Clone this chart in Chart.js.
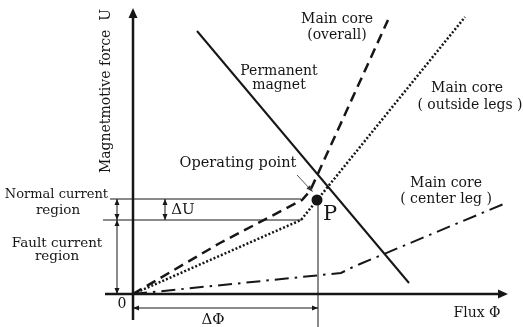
<!DOCTYPE html>
<html>
<head>
<meta charset="utf-8">
<script src="https://cdn.jsdelivr.net/npm/chart.js@4.4.1/dist/chart.umd.min.js"></script>
<style>
html,body{margin:0;padding:0;background:#fff}
#wrap{width:523px;height:327px}
</style>
</head>
<body>
<div id="wrap"><canvas id="chart" width="523" height="327"></canvas></div>
<script>
// flux (x) against magnetomotive force (y), arbitrary units
const magnetFlux = [64, 276]
const magnetMmf = [263, 11]
const overallFlux = [0, 87, 169, 177, 255]
const overallMmf = [0, 51, 94, 103, 274]
const outsideFlux = [0, 168, 332]
const outsideMmf = [0, 74, 277]
const centerFlux = [0, 208, 218, 227, 373]
const centerMmf = [0, 21, 26, 30, 91]
const operatingFlux = 184
const operatingMmf = 94
const kneeMmf = 74

const FONT = '"DejaVu Serif", "Liberation Serif", serif'
const INK = '#161616'

function pts(xs, ys) {
	return xs.map(function (v, i) { return {x: v, y: ys[i]} })
}

function head(ctx, x, y, ang, len, half) {
	ctx.save()
	ctx.translate(x, y)
	ctx.rotate(ang)
	ctx.beginPath()
	ctx.moveTo(0, 0)
	ctx.lineTo(-len, -half)
	ctx.lineTo(-len, half)
	ctx.closePath()
	ctx.fill()
	ctx.restore()
}

function seg(ctx, x1, y1, x2, y2, w) {
	ctx.lineWidth = w
	ctx.beginPath()
	ctx.moveTo(x1, y1)
	ctx.lineTo(x2, y2)
	ctx.stroke()
}

// double headed dimension arrow
function dim(ctx, x1, y1, x2, y2) {
	seg(ctx, x1, y1, x2, y2, 1)
	const a = Math.atan2(y2 - y1, x2 - x1)
	head(ctx, x2, y2, a, 6, 2.5)
	head(ctx, x1, y1, a + Math.PI, 6, 2.5)
}

function text(ctx, s, x, y, size, align) {
	ctx.font = size + 'px ' + FONT
	ctx.textAlign = align || 'center'
	ctx.textBaseline = 'middle'
	ctx.fillText(s, x, y)
}

const overlay = {
	id: 'overlay',
	beforeDraw(chart) {
		const ctx = chart.ctx
		ctx.save()
		ctx.fillStyle = '#fff'
		ctx.fillRect(0, 0, chart.width, chart.height)
		ctx.restore()
	},
	afterDatasetsDraw(chart) {
		const ctx = chart.ctx
		const x = chart.scales.x, y = chart.scales.y
		const x0 = x.getPixelForValue(0), y0 = y.getPixelForValue(0)
		const px = x.getPixelForValue(operatingFlux), py = y.getPixelForValue(operatingMmf)
		const ky = y.getPixelForValue(kneeMmf)
		ctx.save()
		ctx.strokeStyle = INK
		ctx.fillStyle = INK
		ctx.lineCap = 'butt'

		// axes
		seg(ctx, x0, 320, x0, chart.chartArea.top + 6, 2.5)
		head(ctx, x0, chart.chartArea.top, -Math.PI / 2, 10, 4.5)
		seg(ctx, 105, y0, x.right - 6, y0, 2.5)
		head(ctx, x.right, y0, 0, 10, 4.5)

		// operating point levels
		seg(ctx, 110, py - 1, px - 16, py - 1, 1)
		seg(ctx, 103, ky, px - 15, ky, 1)
		seg(ctx, px + 1, py, px + 1, 327, 1)
		dim(ctx, 117, py - 1, 117, ky)
		dim(ctx, 117, ky, 117, y0)
		dim(ctx, 165, py - 1, 165, ky)
		dim(ctx, x0, 308, px + 1, 308)

		// pointer to the operating point
		ctx.strokeStyle = '#555'
		ctx.fillStyle = '#333'
		seg(ctx, 297, 175, 311, 190, 1)
		head(ctx, 313, 192, Math.atan2(17, 16), 7, 2.5)
		ctx.strokeStyle = INK
		ctx.fillStyle = INK

		// labels
		text(ctx, 'Main core', 337, 19, 14)
		text(ctx, '(overall)', 337, 35, 14)
		text(ctx, 'Permanent', 279, 71, 14)
		text(ctx, 'magnet', 279, 85, 14)
		text(ctx, 'Main core', 467, 88, 14)
		text(ctx, '( outside legs )', 470, 105, 14)
		text(ctx, 'Main core', 446, 183, 14)
		text(ctx, '( center leg )', 446, 199, 14)
		text(ctx, 'Operating point', 238, 163, 14.5)
		text(ctx, 'Normal current', 108, 195, 13, 'right')
		text(ctx, 'region', 58, 210, 13.5)
		text(ctx, 'Fault current', 57, 243, 13.5)
		text(ctx, 'region', 57, 256, 13.5)
		text(ctx, 'ΔU', 183, 210, 15)
		text(ctx, '0', 122, 304, 14)
		text(ctx, 'ΔΦ', 213, 320, 15)
		text(ctx, 'Flux Φ', 477, 313, 14)
		text(ctx, 'P', 330, 215, 21)

		ctx.translate(106, 91)
		ctx.rotate(-Math.PI / 2)
		text(ctx, 'Magnetmotive force  U', 0, 0, 14)
		ctx.restore()
	}
}

const line = {showLine: true, fill: false, pointRadius: 0, tension: 0, borderColor: INK, borderCapStyle: 'butt'}

new Chart(document.getElementById('chart'), {
	type: 'scatter',
	data: {
		datasets: [
			Object.assign({}, line, {label: 'Permanent magnet', data: pts(magnetFlux, magnetMmf), borderWidth: 2}),
			Object.assign({}, line, {label: 'Main core (overall)', data: pts(overallFlux, overallMmf), borderWidth: 2.5, borderDash: [10, 6]}),
			Object.assign({}, line, {label: 'Main core (outside legs)', data: pts(outsideFlux, outsideMmf), borderWidth: 2.5, borderDash: [2, 2]}),
			Object.assign({}, line, {label: 'Main core (center leg)', data: pts(centerFlux, centerMmf), borderWidth: 2, borderDash: [14, 6, 2.5, 6]}),
			{label: 'Operating point', data: [{x: operatingFlux, y: operatingMmf}], pointRadius: 5.5, pointBackgroundColor: INK, pointBorderWidth: 0}
		]
	},
	options: {
		responsive: false,
		animation: false,
		layout: {padding: {left: 133, right: 15, top: 8, bottom: 33}},
		plugins: {legend: {display: false}, tooltip: {enabled: false}},
		scales: {
			x: {type: 'linear', min: 0, max: 375, display: false},
			y: {type: 'linear', min: 0, max: 286, display: false}
		}
	},
	plugins: [overlay]
})
</script>
</body>
</html>
